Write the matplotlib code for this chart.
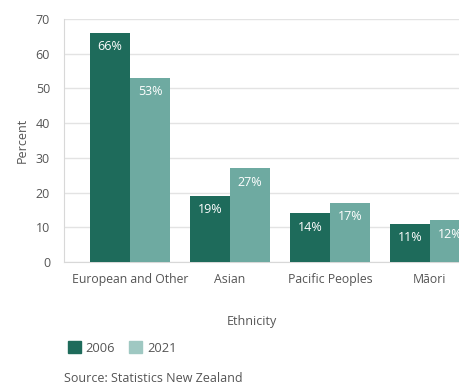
import matplotlib
matplotlib.use("Agg")
import matplotlib.pyplot as plt
import numpy as np
from matplotlib.patches import Patch

categories = ["European and Other", "Asian", "Pacific Peoples", "Māori"]
series_names = ["2006", "2021"]
values_2006 = [66, 19, 14, 11]
values_2021 = [53, 27, 17, 12]
yticks = [0, 10, 20, 30, 40, 50, 60, 70]

plt.rcParams['font.family'] = ['Open Sans', 'DejaVu Sans']

c_dark = "#1e6b5b"
c_light = "#6eaaa1"
c_light_legend = "#9fc8c2"
txt = "#555555"

fig = plt.figure(figsize=(4.6, 3.85), dpi=100)
ax = fig.add_axes([64/460, 1-262/385, 1-64/460, (262-19)/385])

x = np.arange(len(categories))
w = 0.4
b1 = ax.bar(x - w/2, values_2006, width=w, color=c_dark, zorder=3)
b2 = ax.bar(x + w/2, values_2021, width=w, color=c_light, zorder=3)

for bars, vals in ((b1, values_2006), (b2, values_2021)):
    for b, v in zip(bars, vals):
        ax.annotate(f"{v}%", (b.get_x() + b.get_width()/2, v), xytext=(0, -10),
                    textcoords="offset points", ha="center", va="center",
                    color="white", fontsize=9, zorder=4)

ax.set_xlim(-0.66, 3.3)
ax.set_ylim(0, 70)
ax.set_yticks(yticks)
ax.set_yticklabels([str(t) for t in yticks])
ax.set_xticks(x)
ax.set_xticklabels(categories)
ax.tick_params(axis="both", length=0, colors=txt, labelsize=9)
ax.tick_params(axis="x", labelsize=8.8)
ax.tick_params(axis="y", pad=10)
ax.tick_params(axis="x", pad=8)
ax.grid(axis="y", color="#e3e3e3", linewidth=1, zorder=0)
for s in ["top", "right"]:
    ax.spines[s].set_visible(False)
ax.spines["left"].set_color("#d8d8d8")
ax.spines["bottom"].set_color("#d8d8d8")

fig.text(22/460, 1-140/385, "Percent", rotation=90, ha="center", va="center",
         color=txt, fontsize=9)
fig.text(252/460, 1-322/385, "Ethnicity", ha="center", va="center",
         color=txt, fontsize=9)

handles = [Patch(color=c_dark), Patch(color=c_light_legend)]
fig.legend(handles, series_names, loc="center left",
           bbox_to_anchor=(56/460, 1-348/385), ncol=2, frameon=False,
           fontsize=9.3, labelcolor=txt, handlelength=1.0, handleheight=1.0,
           handletextpad=0.4, columnspacing=1.1)

fig.text(64/460, 1-379/385, "Source: Statistics New Zealand", ha="left",
         va="center", color=txt, fontsize=9)

fig.savefig("out.png", dpi=100)
